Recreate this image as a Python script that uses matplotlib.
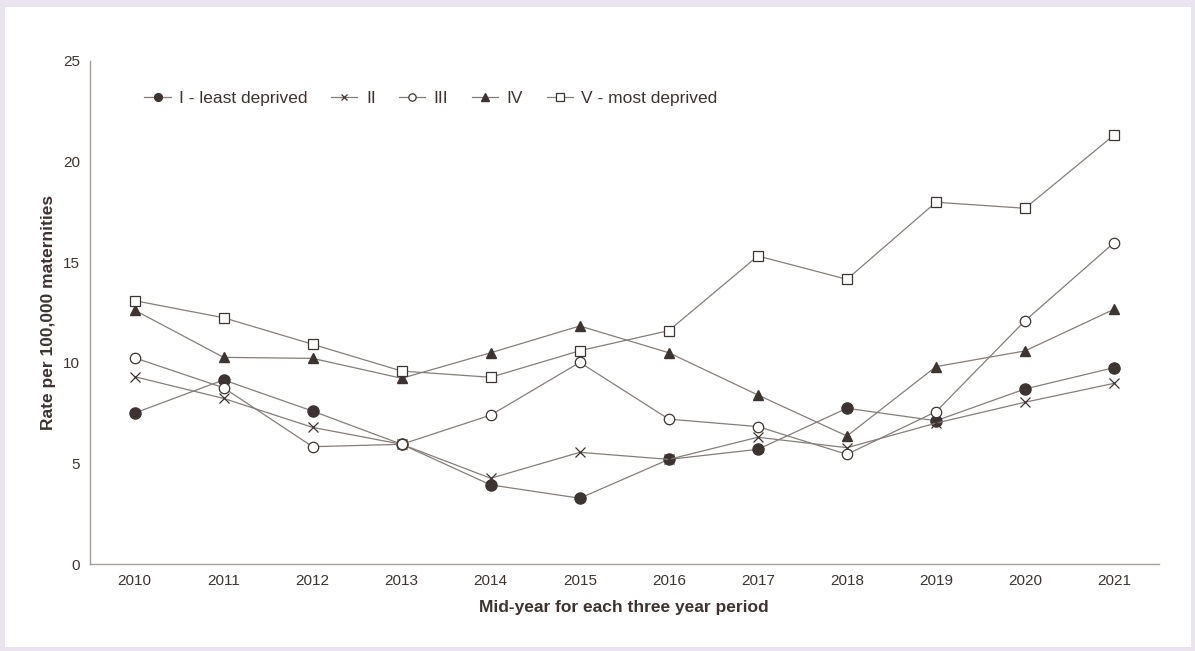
import matplotlib.pyplot as plt
from matplotlib.patches import Rectangle

plt.rcParams['font.family'] = ['Liberation Sans', 'DejaVu Sans']

years = ['2010', '2011', '2012', '2013', '2014', '2015',
         '2016', '2017', '2018', '2019', '2020', '2021']

quintile_1 = [7.5, 9.15, 7.6, 5.95, 3.93, 3.27, 5.2, 5.7, 7.74, 7.12, 8.7, 9.76]
quintile_2 = [9.31, 8.23, 6.79, 5.95, 4.26, 5.55, 5.2, 6.3, 5.78, 7.0, 8.04, 8.98]
quintile_3 = [10.25, 8.76, 5.83, 5.95, 7.4, 10.02, 7.2, 6.83, 5.45, 7.57, 12.09, 15.97]
quintile_4 = [12.62, 10.27, 10.22, 9.23, 10.5, 11.83, 10.5, 8.4, 6.36, 9.81, 10.59, 12.66]
quintile_5 = [13.09, 12.24, 10.92, 9.59, 9.28, 10.6, 11.6, 15.31, 14.15, 17.98, 17.68, 21.32]

labels = ['I - least deprived', 'II', 'III', 'IV', 'V - most deprived']

dark = '#3d3431'
line_col = '#857d79'
axis_col = '#a79d99'

fig = plt.figure(figsize=(11.95, 6.51), dpi=100)
fig.patch.set_facecolor('#ebe4f0')
# white card behind the chart
fig.patches.append(Rectangle((5 / 1195, 4 / 651), 1186 / 1195, 640 / 651,
                             transform=fig.transFigure, facecolor='white',
                             edgecolor='none', zorder=-10))

ax = fig.add_axes([90 / 1195, 1 - 564 / 651, 1068.6 / 1195, 503 / 651])
ax.set_facecolor('none')

x = range(len(years))
styles = [
    dict(marker='o', markersize=8, markerfacecolor=dark, markeredgecolor=dark),
    dict(marker='x', markersize=7, markeredgecolor=dark, markeredgewidth=0.9),
    dict(marker='o', markersize=7.5, markerfacecolor='white', markeredgecolor=dark, markeredgewidth=0.9),
    dict(marker='^', markersize=7.5, markerfacecolor=dark, markeredgecolor=dark),
    dict(marker='s', markersize=7.5, markerfacecolor='white', markeredgecolor=dark, markeredgewidth=0.9),
]
series = [quintile_1, quintile_2, quintile_3, quintile_4, quintile_5]

for vals, lab, st in zip(series, labels, styles):
    ax.plot(x, vals, color=line_col, linewidth=0.9, label=lab, **st)

ax.set_xlim(-0.5, len(years) - 0.5)
ax.set_ylim(0, 25)
ax.set_xticks(list(x))
ax.set_xticklabels(years)
ax.set_yticks([0, 5, 10, 15, 20, 25])
ax.tick_params(axis='both', length=0, labelsize=11, colors=dark)
ax.tick_params(axis='x', pad=7)
ax.tick_params(axis='y', pad=7)

for side in ['top', 'right']:
    ax.spines[side].set_visible(False)
for side in ['left', 'bottom']:
    ax.spines[side].set_color(axis_col)
    ax.spines[side].set_linewidth(1)

ax.set_xlabel('Mid-year for each three year period', fontsize=12.5,
              fontweight='bold', color=dark, labelpad=9)
ax.set_ylabel('Rate per 100,000 maternities', fontsize=12.5,
              fontweight='bold', color=dark, labelpad=5)

leg = ax.legend(loc='center left', bbox_to_anchor=(0.051, 0.926), ncol=5,
                frameon=False, fontsize=12.5, borderaxespad=0, borderpad=0,
                handlelength=1.5, handletextpad=0.5, columnspacing=1.35,
                markerscale=0.7, labelcolor=dark)

fig.savefig('out.png', dpi=100, facecolor=fig.get_facecolor())
